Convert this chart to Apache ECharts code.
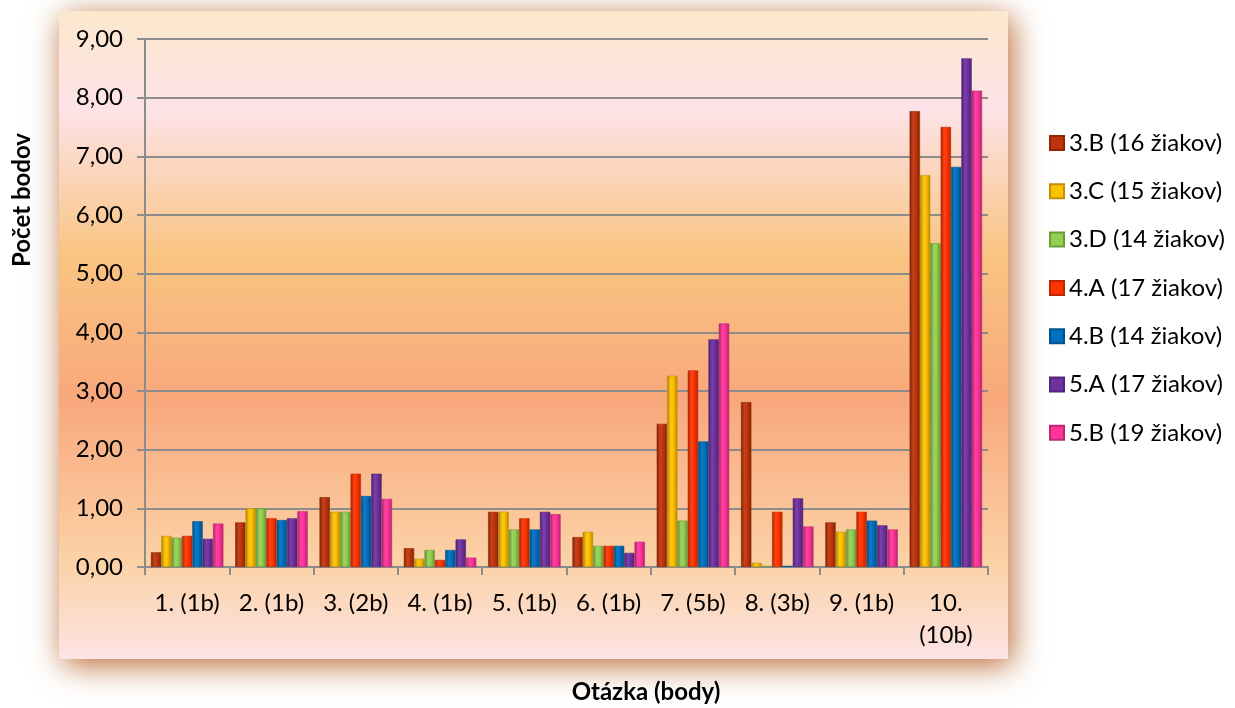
<!DOCTYPE html>
<html>
<head>
<meta charset="utf-8">
<script src="https://cdn.jsdelivr.net/npm/echarts@6/dist/echarts.min.js"></script>
<style>
html,body{margin:0;padding:0;background:#fff;}
#c{width:1235px;height:708px;}
</style>
</head>
<body>
<div id="c"></div>
<script>
const categories = ["1. (1b)", "2. (1b)", "3. (2b)", "4. (1b)", "5. (1b)", "6. (1b)", "7. (5b)", "8. (3b)", "9. (1b)", "10. (10b)"];
const seriesNames = ["3.B (16 žiakov)", "3.C (15 žiakov)", "3.D (14 žiakov)", "4.A (17 žiakov)", "4.B (14 žiakov)", "5.A (17 žiakov)", "5.B (19 žiakov)"];
const s3B = [0.25, 0.76, 1.19, 0.32, 0.94, 0.51, 2.44, 2.81, 0.76, 7.77];
const s3C = [0.53, 1.00, 0.94, 0.14, 0.94, 0.60, 3.26, 0.07, 0.60, 6.68];
const s3D = [0.50, 1.00, 0.94, 0.29, 0.64, 0.36, 0.79, 0.02, 0.64, 5.52];
const s4A = [0.53, 0.83, 1.59, 0.12, 0.83, 0.36, 3.35, 0.94, 0.94, 7.50];
const s4B = [0.78, 0.80, 1.21, 0.29, 0.64, 0.36, 2.14, 0.02, 0.79, 6.82];
const s5A = [0.48, 0.83, 1.59, 0.47, 0.94, 0.24, 3.88, 1.17, 0.71, 8.67];
const s5B = [0.74, 0.95, 1.16, 0.16, 0.90, 0.43, 4.15, 0.69, 0.64, 8.12];
const yTicks = [0, 9, 1];

const seriesData = [s3B, s3C, s3D, s4A, s4B, s5A, s5B];
const colors = ["#c0330a", "#ffc000", "#92d050", "#ff3300", "#0070c0", "#7030a0", "#ff3399"];

function shade(hex, f) {
  const n = parseInt(hex.slice(1), 16);
  let r = (n >> 16) & 255, g = (n >> 8) & 255, b = n & 255;
  if (f < 0) { r = Math.round(r * (1 + f)); g = Math.round(g * (1 + f)); b = Math.round(b * (1 + f)); }
  else { r = Math.round(r + (255 - r) * f); g = Math.round(g + (255 - g) * f); b = Math.round(b + (255 - b) * f); }
  return 'rgb(' + r + ',' + g + ',' + b + ')';
}
function cyl(c) {
  return new echarts.graphic.LinearGradient(0, 0, 1, 0, [
    { offset: 0, color: shade(c, -0.35) },
    { offset: 0.35, color: shade(c, 0.08) },
    { offset: 0.6, color: c },
    { offset: 1, color: shade(c, -0.3) }
  ]);
}

const FONT = 'Lato';
const FS = 24;
const chart = echarts.init(document.getElementById('c'), null, { renderer: 'canvas' });

const series = seriesNames.map((name, i) => ({
  name: name,
  type: 'bar',
  data: seriesData[i],
  barGap: '0%',
  barCategoryGap: '14%',
  itemStyle: { color: cyl(colors[i]), borderColor: shade(colors[i], -0.25), borderWidth: 0.6 }
}));

chart.setOption({
  animation: false,
  color: colors,
  graphic: [
    {
      type: 'rect', z: -10, silent: true,
      shape: { x: 59, y: 11, width: 949, height: 648 },
      style: {
        fill: new echarts.graphic.LinearGradient(0, 0, 0, 1, [
          { offset: 0, color: '#fbe8cc' },
          { offset: 0.15, color: '#fde3e8' },
          { offset: 0.38, color: '#f9c481' },
          { offset: 0.6, color: '#f8a87c' },
          { offset: 0.85, color: '#fbd2a6' },
          { offset: 1, color: '#fde3e4' }
        ]),
        shadowBlur: 30, shadowColor: 'rgba(185,105,50,1)', shadowOffsetX: 4, shadowOffsetY: 6
      }
    },
    {
      type: 'text', rotation: Math.PI / 2, silent: true, x: 22, y: 200,
      style: { text: 'Počet bodov', font: 'bold ' + FS + 'px ' + FONT, fill: '#000', textAlign: 'center', textVerticalAlign: 'middle' }
    },
    {
      type: 'text', silent: true, x: 646, y: 692,
      style: { text: 'Otázka (body)', font: 'bold ' + FS + 'px ' + FONT, fill: '#000', textAlign: 'center', textVerticalAlign: 'middle' }
    }
  ],
  legend: {
    orient: 'vertical', left: 1044, top: 126, itemGap: 24.3,
    itemWidth: 14, itemHeight: 14, icon: 'rect',
    textStyle: { fontFamily: FONT, fontSize: FS, color: '#000' },
    data: seriesNames.map((n, i) => ({ name: n, itemStyle: { color: colors[i] } }))
  },
  grid: { left: 145, right: 247, top: 39, bottom: 141, containLabel: false },
  xAxis: {
    type: 'category', data: categories,
    axisLine: { show: true, lineStyle: { color: '#8c8c8c', width: 2 } },
    axisTick: { show: true, length: 8, lineStyle: { color: '#8c8c8c', width: 2 } },
    axisLabel: {
      interval: 0, hideOverlap: false,
      fontFamily: FONT, fontSize: FS, color: '#000', margin: 20, lineHeight: 32,
      formatter: v => v.length > 8 ? v.replace(' ', '\n') : v
    }
  },
  yAxis: {
    type: 'value', min: yTicks[0], max: yTicks[1], interval: yTicks[2],
    axisLine: { show: true, lineStyle: { color: '#8c8c8c', width: 2 } },
    axisTick: { show: true, length: 8, lineStyle: { color: '#8c8c8c', width: 2 } },
    splitLine: { lineStyle: { color: '#8c8c8c', width: 2 } },
    axisLabel: { fontFamily: FONT, fontSize: FS, color: '#000', margin: 22, formatter: v => v.toFixed(2).replace('.', ',') }
  },
  series: series
});
</script>
</body>
</html>
